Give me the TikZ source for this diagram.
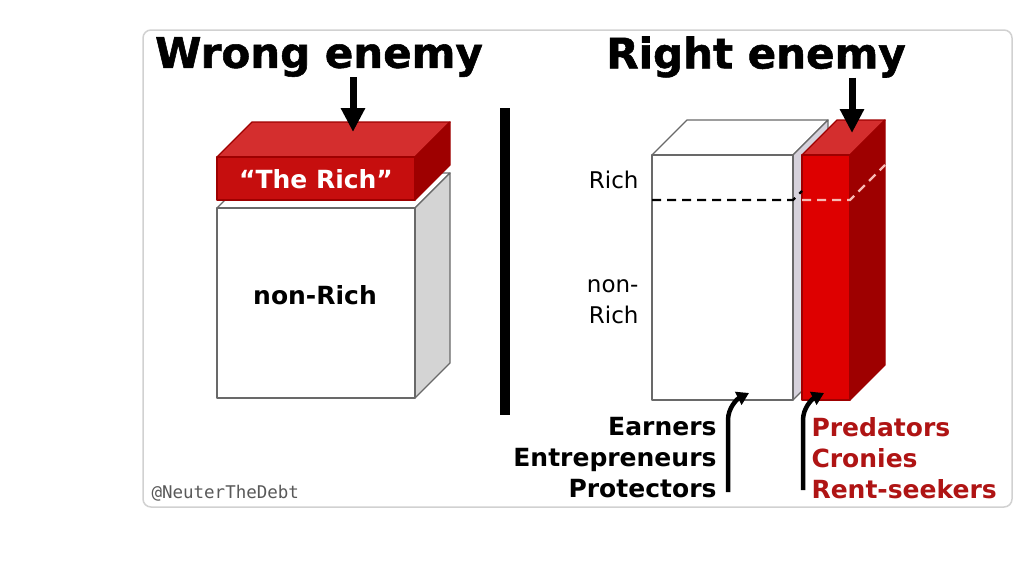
\documentclass[tikz,border=0pt]{standalone}
\usepackage{fontspec}
\setmainfont{DejaVu Sans}
\newfontfamily\heavyfont{DejaVu Sans}[BoldFeatures={FakeBold=1.3}]
\newfontfamily\handlefont{DejaVu Sans Mono}
\usetikzlibrary{arrows.meta}
\definecolor{slabfront}{RGB}{198,14,14}
\definecolor{slabtop}{RGB}{212,46,46}
\definecolor{slabside}{RGB}{158,0,0}
\definecolor{pillarfront}{RGB}{222,0,0}
\definecolor{cubeside}{RGB}{212,212,212}
\definecolor{sliver}{RGB}{214,210,220}
\definecolor{edgegray}{RGB}{105,105,105}
\definecolor{darkred}{RGB}{175,20,20}
\definecolor{dashpink}{RGB}{248,185,180}
\tikzstyle{title} = [font=\fontsize{42}{48}\selectfont\heavyfont\bfseries, inner sep=0pt]
\tikzstyle{boxtext} = [font=\fontsize{25}{30}\selectfont\bfseries]
\tikzstyle{sidetext} = [font=\fontsize{23}{31}\selectfont, anchor=east, align=right]
\tikzstyle{listtext} = [font=\fontsize{25}{31}\selectfont\bfseries]
\tikzstyle{face} = [line width=1.3pt, line join=round]
\tikzstyle{arrow} = [draw, line width=7pt, -{Triangle[length=24pt,width=23pt]}]
\tikzstyle{curl} = [draw, line width=4.5pt, -{Triangle[length=12pt,width=14pt]}]
\tikzstyle{cut} = [draw, line width=2.4pt, dash pattern=on 9pt off 6pt]
% front x1 y1 x2 y2, colours front top side edge
\newcommand{\cuboid}[8]{%
  \filldraw[face, draw=#8, fill=#6] (#1,#2) -- (#1+35,#2-35) -- (#3+35,#2-35) -- (#3,#2) -- cycle;
  \filldraw[face, draw=#8, fill=#7] (#3,#2) -- (#3+35,#2-35) -- (#3+35,#4-35) -- (#3,#4) -- cycle;
  \filldraw[face, draw=#8, fill=#5] (#1,#2) rectangle (#3,#4);}
\begin{document}
\begin{tikzpicture}[x=1pt,y=-1pt]
\useasboundingbox (0,0) rectangle (1024,576);
\draw[black!18, line width=1.5pt, rounded corners=8pt] (143,30) rectangle (1012,507);

% wrong enemy
\path (319,57) node (ta) [title] {Wrong enemy};
\cuboid{217}{208}{415}{398}{white}{white}{cubeside}{edgegray}
\cuboid{217}{157}{415}{200}{slabfront}{slabtop}{slabside}{slabside}
\path (316,179) node (sl) [boxtext, white] {“The Rich”};
\path (315,295) node (nr) [boxtext] {non-Rich};
\coordinate (s1) at (353,132);
\path [arrow] (ta.south -| s1) -- (s1);

% divider
\fill (500,108) rectangle (510,415);

% right enemy
\path (ta)+(437,0) node (tb) [title] {Right enemy};
\cuboid{652}{155}{793}{400}{white}{white}{sliver}{edgegray}
\cuboid{802}{155}{850}{400}{pillarfront}{slabtop}{slabside}{slabside}
\path [cut, black] (652,200) -- (793,200) -- (802,191);
\path [cut, dashpink] (802,200) -- (850,200) -- (885,165);
\path (642,180) node (rr) [sidetext] {Rich};
\path (642,302) node (rn) [sidetext] {non-\\Rich};
\coordinate (s2) at (852,133);
\path [arrow] (tb.south -| s2) -- (s2);

% who is who
\path (720,458) node (ee) [listtext, anchor=east, align=right] {Earners\\Entrepreneurs\\Protectors};
\path (808,458) node (pc) [listtext, anchor=west, align=left, darkred] {Predators\\Cronies\\Rent-seekers};
\coordinate (b1) at (728,492);
\coordinate (h1) at (749,393);
\coordinate (b2) at (803,490);
\coordinate (h2) at (824,393);
\path [curl] (b1) -- ++(0,-72) .. controls +(0,-12) and +(-12,6) .. (h1);
\path [curl] (b2) -- ++(0,-70) .. controls +(0,-12) and +(-12,6) .. (h2);

\path (148,493) node (hd) [anchor=west, font=\fontsize{17.5}{20}\handlefont, black!65] {@NeuterTheDebt};
\end{tikzpicture}
\end{document}
